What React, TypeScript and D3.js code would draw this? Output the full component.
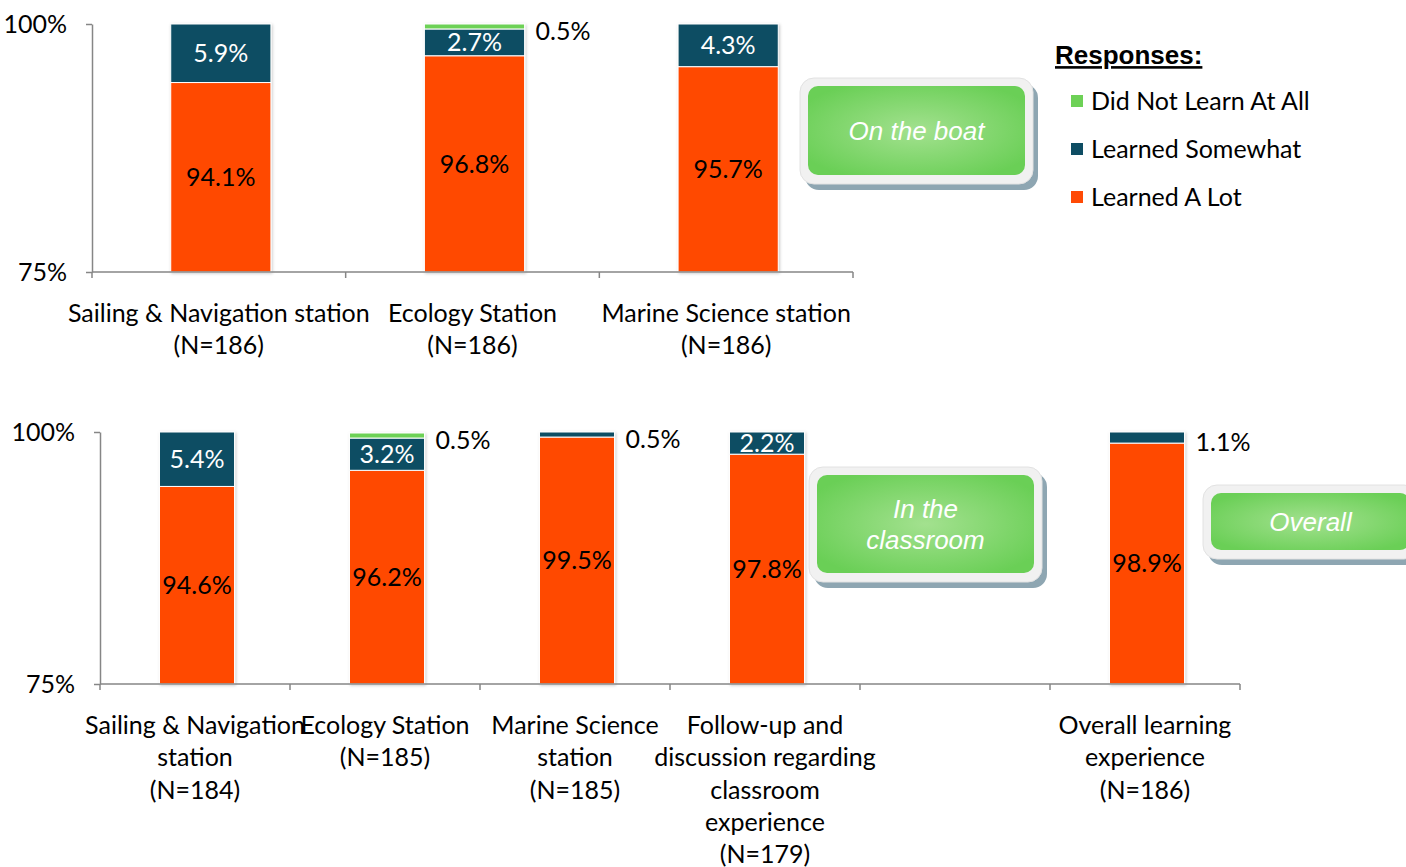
import React from 'react';
import * as d3 from 'd3';

const FONT = 'Lato, "Open Sans", sans-serif';
const ARIAL = '"Liberation Sans", Arial, sans-serif';

const seriesKeys = ['alot', 'somewhat', 'notAtAll'];
const seriesNames = ['Learned A Lot', 'Learned Somewhat', 'Did Not Learn At All'];
const seriesColors = ['#FF4A05', '#0E4D63', '#6DD156'];

const yTicks = [75, 100];

// top panel: "On the boat"
const topCategories = [
  'Sailing & Navigation station\n(N=186)',
  'Ecology Station\n(N=186)',
  'Marine Science station\n(N=186)',
];
const topLearnedALot = [94.1, 96.8, 95.7];
const topSomewhat = [5.9, 2.7, 4.3];
const topNotAtAll = [0, 0.5, 0];

// bottom panel: "In the classroom" + "Overall"
const bottomCategories = [
  'Sailing & Navigation\nstation\n(N=184)',
  'Ecology Station\n(N=185)',
  'Marine Science\nstation\n(N=185)',
  'Follow-up and\ndiscussion regarding\nclassroom\nexperience\n(N=179)',
  '',
  'Overall learning\nexperience\n(N=186)',
];
const bottomLearnedALot = [94.6, 96.2, 99.5, 97.8, null, 98.9];
const bottomSomewhat = [5.4, 3.2, 0.5, 2.2, null, 1.1];
const bottomNotAtAll = [0, 0.5, 0, 0, null, 0];

interface PanelProps {
  categories: string[];
  alot: (number | null)[];
  somewhat: (number | null)[];
  notAtAll: (number | null)[];
  left: number;
  right: number;
  top: number;
  bottom: number;
}

const Panel = ({ categories, alot, somewhat, notAtAll, left, right, top, bottom }: PanelProps) => {
  const keys = categories.map((_, i) => String(i));
  const x = d3.scaleBand().domain(keys).range([left, right]).padding(0);
  const y = d3.scaleLinear().domain([75, 100]).range([bottom, top]).clamp(true);

  const rows = categories.map((_, i) => ({
    key: keys[i],
    empty: alot[i] == null,
    alot: alot[i] ?? 0,
    somewhat: somewhat[i] ?? 0,
    notAtAll: notAtAll[i] ?? 0,
  }));
  const stacked = d3.stack<any>().keys(seriesKeys)(rows);
  const barW = x.bandwidth() * 0.395;

  const bars: JSX.Element[] = [];
  const labels: JSX.Element[] = [];
  stacked.forEach((s, si) => {
    s.forEach((d, i) => {
      const row = rows[i];
      const v = d[1] - d[0];
      if (row.empty || v <= 0) return;
      const cx = (x(row.key) as number) + x.bandwidth() / 2 + 2;
      const y0 = y(d[0]);
      const y1 = y(d[1]);
      bars.push(
        <rect
          key={`b${si}-${i}`}
          x={cx - barW / 2}
          y={y1}
          width={barW}
          height={y0 - y1}
          fill={seriesColors[si]}
          stroke="#fff"
          strokeWidth={1}
        />,
      );
      const h = y0 - y1;
      const txt = `${v.toFixed(1)}%`;
      if (h >= 18) {
        labels.push(
          <text
            key={`l${si}-${i}`}
            x={cx}
            y={(y0 + y1) / 2}
            dy="0.35em"
            textAnchor="middle"
            fill={si === 1 ? '#fff' : '#000'}
          >
            {txt}
          </text>,
        );
      } else {
        labels.push(
          <text key={`l${si}-${i}`} x={cx + barW / 2 + 11} y={(y0 + y1) / 2 + 5} dy="0.35em" fill="#000">
            {txt}
          </text>,
        );
      }
    });
  });

  const boundaries = [...keys.map((k) => x(k) as number), right];

  return (
    <g fontFamily={FONT} fontSize={25}>
      <g filter="url(#barShadow)">{bars}</g>
      {labels}
      <g
        ref={(g) => {
          if (!g) return;
          const axis = d3
            .axisLeft(y)
            .tickValues(yTicks)
            .tickSize(6)
            .tickSizeOuter(0)
            .tickPadding(19)
            .tickFormat((d) => `${d}%`);
          const sel = d3.select(g).attr('transform', `translate(${left},0)`).call(axis);
          sel.selectAll('path,line').attr('stroke', '#868686').attr('stroke-width', 1.5);
          sel.selectAll('text').attr('font-size', 25).attr('font-family', FONT).attr('fill', '#000');
        }}
      />
      <line x1={left} x2={right} y1={bottom} y2={bottom} stroke="#868686" strokeWidth={1.5} />
      {boundaries.map((b, i) => (
        <line key={`t${i}`} x1={b} x2={b} y1={bottom} y2={bottom + 6} stroke="#868686" strokeWidth={1.5} />
      ))}
      {categories.map((c, i) => {
        const cx = (x(keys[i]) as number) + x.bandwidth() / 2;
        return c.split('\n').map((line, li) => (
          <text key={`c${i}-${li}`} x={cx} y={bottom + 41.5 + li * 32.2} dy="0.35em" textAnchor="middle" fill="#000">
            {line}
          </text>
        ));
      })}
    </g>
  );
};

const Badge = ({ x, y, w, h, lines }: { x: number; y: number; w: number; h: number; lines: string[] }) => (
  <g>
    <rect x={x + 5} y={y + 6} width={w} height={h} rx={14} fill="#8ea6b2" />
    <rect x={x} y={y} width={w} height={h} rx={14} fill="#f1f1f1" stroke="#e2e2e2" />
    <rect x={x + 8} y={y + 8} width={w - 16} height={h - 17} rx={10} fill="url(#greenGlow)" />
    {lines.map((l, i) => (
      <text
        key={i}
        x={x + w / 2}
        y={y + h / 2 - 0.5 + (i - (lines.length - 1) / 2) * 31}
        dy="0.35em"
        textAnchor="middle"
        fill="#fff"
        fontStyle="italic"
        fontFamily={ARIAL}
        fontSize={26}
      >
        {l}
      </text>
    ))}
  </g>
);

const legendOrder = [2, 1, 0];

const App = () => (
  <div style={{ position: 'absolute', left: 0, top: 0 }}>
    <svg width={1406} height={867} style={{ display: 'block', background: '#fff' }}>
      <defs>
        <filter id="barShadow" x="-20%" y="-20%" width="140%" height="140%">
          <feDropShadow dx="1" dy="1" stdDeviation="1.5" floodColor="#000" floodOpacity="0.22" />
        </filter>
        <radialGradient id="greenGlow" cx="50%" cy="50%" r="60%">
          <stop offset="0%" stopColor="#a3e18f" />
          <stop offset="100%" stopColor="#6acf56" />
        </radialGradient>
      </defs>

      <Panel
        categories={topCategories}
        alot={topLearnedALot}
        somewhat={topSomewhat}
        notAtAll={topNotAtAll}
        left={92}
        right={853}
        top={24}
        bottom={272}
      />
      <Panel
        categories={bottomCategories}
        alot={bottomLearnedALot}
        somewhat={bottomSomewhat}
        notAtAll={bottomNotAtAll}
        left={100}
        right={1240}
        top={432}
        bottom={684}
      />

      <Badge x={800} y={78} w={233} h={106} lines={['On the boat']} />
      <Badge x={809} y={467} w={233} h={115} lines={['In the', 'classroom']} />
      <Badge x={1203} y={485} w={215} h={74} lines={['Overall']} />

      <g>
        <text x={1055} y={55} dy="0.35em" fontFamily={ARIAL} fontWeight="bold" fontSize={26} textDecoration="underline">
          Responses:
        </text>
        {legendOrder.map((si, i) => (
          <g key={si}>
            <rect x={1071} y={95 + i * 48} width={12} height={12} fill={seriesColors[si]} />
            <text x={1091} y={101 + i * 48} dy="0.35em" fontFamily={FONT} fontSize={25}>
              {seriesNames[si]}
            </text>
          </g>
        ))}
      </g>
    </svg>
  </div>
);

export default App;
